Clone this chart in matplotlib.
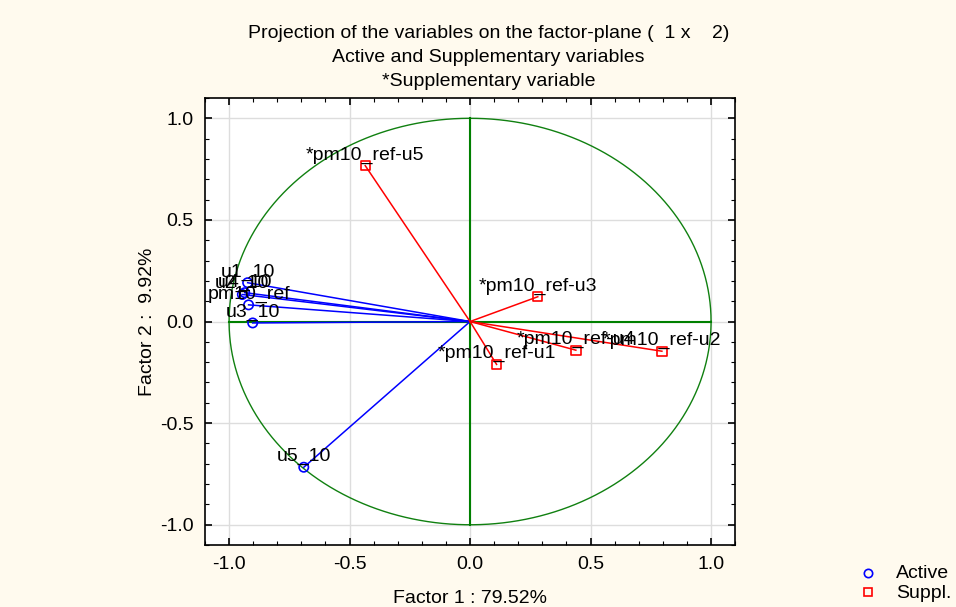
import numpy as np
import matplotlib
matplotlib.use("Agg")
import matplotlib.pyplot as plt
from matplotlib.ticker import MultipleLocator

plt.rcParams["font.family"] = ["Liberation Sans", "DejaVu Sans"]

# Active variables
act_names = ["u1_10", "u4_10", "u2_10", "pm10_ref", "u3_10", "u5_10"]
act_x = [-0.923, -0.935, -0.945, -0.919, -0.902, -0.690]
act_y = [0.191, 0.142, 0.133, 0.082, -0.007, -0.717]

# Supplementary variables
sup_names = ["*pm10_ref-u5", "*pm10_ref-u3", "*pm10_ref-u1", "*pm10_ref-u4", "*pm10_ref-u2"]
sup_x = [-0.435, 0.281, 0.110, 0.439, 0.796]
sup_y = [0.767, 0.122, -0.211, -0.141, -0.146]

ticks = [-1.0, -0.5, 0.0, 0.5, 1.0]
tick_labels = ["-1.0", "-0.5", "0.0", "0.5", "1.0"]

FS = 14
bg = "#FFFAEE"
fig = plt.figure(figsize=(9.56, 6.07), dpi=100, facecolor=bg)
ax = fig.add_axes([0.2144, 0.102, 0.5546, 0.7366])
ax.set_facecolor("white")
ax.set_xlim(-1.1, 1.1)
ax.set_ylim(-1.1, 1.1)

ax.set_xticks(ticks)
ax.set_xticklabels(tick_labels)
ax.set_yticks(ticks)
ax.set_yticklabels(tick_labels)
ax.xaxis.set_minor_locator(MultipleLocator(0.1))
ax.yaxis.set_minor_locator(MultipleLocator(0.1))
ax.tick_params(which="both", direction="in", top=True, right=True, labelsize=FS, colors="black")
ax.tick_params(which="major", length=5, width=1.2, pad=8)
ax.tick_params(which="minor", length=3, width=0.8)
ax.grid(True, which="major", color="#dddddd", linewidth=1.0, zorder=0)
ax.set_axisbelow(True)
for s in ax.spines.values():
    s.set_linewidth(1.2)

# unit circle & axes lines
t = np.linspace(0, 2 * np.pi, 400)
ax.plot(np.cos(t), np.sin(t), color="#108010", linewidth=1.0, zorder=2)
ax.plot([-1, 1], [0, 0], color="#008000", linewidth=1.5, zorder=2)
ax.plot([0, 0], [-1, 1], color="#008000", linewidth=1.5, zorder=2)

# vectors
for x, y in zip(act_x, act_y):
    ax.plot([0, x], [0, y], color="blue", linewidth=1.1, zorder=3)
for x, y in zip(sup_x, sup_y):
    ax.plot([0, x], [0, y], color="red", linewidth=1.1, zorder=3)

ax.scatter(act_x, act_y, marker="o", s=45, facecolors="none", edgecolors="blue", linewidths=1.2, zorder=4)
ax.scatter(sup_x, sup_y, marker="s", s=45, facecolors="none", edgecolors="red", linewidths=1.2, zorder=4)

for n, x, y in zip(act_names, act_x, act_y):
    ax.annotate(n, (x, y), xytext=(0, 1.5), textcoords="offset points", ha="center", va="bottom",
                fontsize=FS, zorder=5)
for n, x, y in zip(sup_names, sup_x, sup_y):
    ax.annotate(n, (x, y), xytext=(0, 1.5), textcoords="offset points", ha="center", va="bottom",
                fontsize=FS, zorder=5)

ax.set_xlabel("Factor 1 : 79.52%", fontsize=FS, labelpad=12)
ax.set_ylabel("Factor 2 :  9.92%", fontsize=FS, labelpad=3)

fig.text(0.511, 0.944, "Projection of the variables on the factor-plane (  1 x    2)", ha="center", va="center", fontsize=FS)
fig.text(0.511, 0.905, "Active and Supplementary variables", ha="center", va="center", fontsize=FS)
fig.text(0.511, 0.866, "*Supplementary variable", ha="center", va="center", fontsize=FS)

# legend
fig.lines.append(plt.Line2D([868 / 956], [1 - 573 / 607], transform=fig.transFigure, marker="o",
                            markersize=6, markerfacecolor="none", markeredgecolor="blue", markeredgewidth=1.2, linestyle="none"))
fig.lines.append(plt.Line2D([868 / 956], [1 - 592 / 607], transform=fig.transFigure, marker="s",
                            markersize=6, markerfacecolor="none", markeredgecolor="red", markeredgewidth=1.2, linestyle="none"))
fig.text(896 / 956, 1 - 574 / 607, "Active", ha="left", va="center", fontsize=FS)
fig.text(896 / 956, 1 - 593 / 607, "Suppl.", ha="left", va="center", fontsize=FS)

fig.savefig("out.png", dpi=100, facecolor=bg)
